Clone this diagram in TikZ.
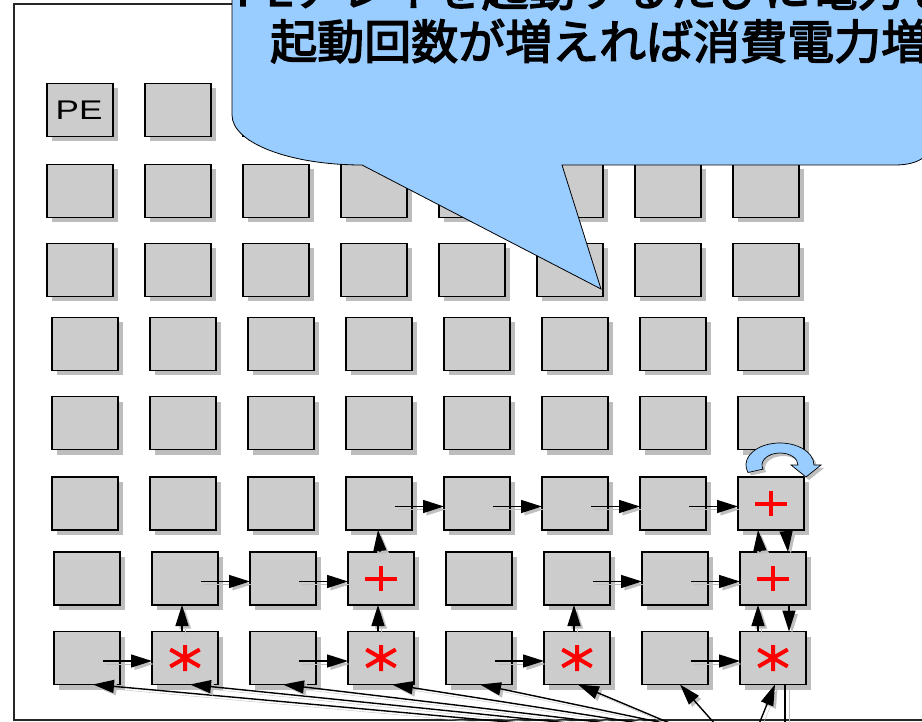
\documentclass[tikz,border=0pt]{standalone}
\usepackage{fontspec}
\usepackage{graphicx}
\newfontfamily\jpfont[FakeBold=3]{Noto Sans CJK JP}
\newfontfamily\lsans{Liberation Sans}
\usetikzlibrary{arrows.meta,shadows}
\definecolor{boxgray}{HTML}{CCCCCC}
\definecolor{shadgray}{HTML}{BDBDBD}
\definecolor{callblue}{HTML}{99CCFF}
\definecolor{symred}{HTML}{FF0000}
\begin{document}
\begin{tikzpicture}[x=1pt,y=-1pt,
  pebox/.style={draw=black, line width=1.8pt, fill=boxgray, minimum width=66pt,
    minimum height=53pt, inner sep=0pt, outer sep=0pt,
    drop shadow={shadow xshift=5pt, shadow yshift=-5pt, fill=shadgray, opacity=1}},
  arr/.style={line width=1.4pt, -{Triangle[length=21pt,width=13pt]},
    preaction={draw=black!25, transform canvas={shift={(3pt,-3pt)}}}},
  sym/.style={draw=symred, line width=4pt},
  frame/.style={draw=black!85, line width=2pt},
  callout/.style={draw=black, line width=0.8pt, fill=callblue},
  asterisk/.pic={\draw[sym] (0,-13)--(0,13) (-14.7,-8.5)--(14.7,8.5) (-14.7,8.5)--(14.7,-8.5);},
  plussign/.pic={\draw[sym] (-16,0)--(16,0) (0,-12.5)--(0,12.5);}
]
\useasboundingbox (0,0) rectangle (922,722);
\clip (0,0) rectangle (922,722);

% outer frame
\draw[frame] (940,4) -- (14,4) -- (14,720) -- (940,720);

% PE boxes
\foreach \r/\yy/\xo in {1/110/80, 2/191/80, 3/270/80, 4/344/85, 5/423/85, 6/503.5/85, 7/578.5/87, 8/658/87} {
  \foreach \c in {1,...,8} {
    \node[pebox] (b\r\c) at ({\xo+98*(\c-1)}, \yy) {};
  }
}
\node[font=\lsans\fontsize{27}{27}\selectfont, text=black, inner sep=0pt] (pe) at ([xshift=-1pt]b11.center) {\scalebox{1.3}[1]{PE}};

% horizontal arrows
\foreach \r/\a/\b in {8/1/2, 8/3/4, 8/5/6, 8/7/8, 7/2/3, 7/3/4, 7/6/7, 7/7/8, 6/4/5, 6/5/6, 6/6/7, 6/7/8}
  \draw[arr] ([xshift=-17pt,yshift=-3pt]b\r\a.east) -- ([yshift=-3pt]b\r\b.west);

% vertical arrows
\draw[arr] ([xshift=-3pt]b82.north) -- ([xshift=-3pt]b72.south);
\draw[arr] ([xshift=-3pt]b84.north) -- ([xshift=-3pt]b74.south);
\draw[arr] ([xshift=-1pt]b74.north) -- ([xshift=-1pt]b64.south);
\draw[arr] ([xshift=-3pt]b86.north) -- ([xshift=-3pt]b76.south);
\draw[arr] ([xshift=-15pt]b88.north) -- ([xshift=-15pt]b78.south);
\draw[arr] ([xshift=-13pt]b78.north) -- ([xshift=-13pt]b68.south);
\draw[arr] ([xshift=15pt]b68.south) -- ([xshift=15pt]b78.north);
\draw[arr] ([xshift=16pt]b78.south) -- ([xshift=16pt]b88.north);

% input lines from below
\coordinate (s1) at (530,724);
\coordinate (s2) at (578,724);
\coordinate (s3) at (615,724);
\coordinate (s4) at (645,724);
\coordinate (s5) at (668,724);
\coordinate (s6) at (672,724);
\coordinate (s7) at (715,724);
\coordinate (s8) at (759,724);
\draw[arr] (s1) -- ([xshift=6pt]b81.south);
\draw[arr] (s2) -- ([xshift=5pt]b82.south);
\draw[arr] (s3) -- ([xshift=0pt]b83.south);
\draw[arr] (s4) -- ([xshift=11pt]b84.south);
\draw[arr] (s5) -- ([xshift=1pt]b85.south);
\draw[arr] (s6) -- ([xshift=1pt]b86.south);
\draw[arr] (s7) -- ([xshift=5pt]b87.south);
\draw[arr] (s8) -- ([xshift=2pt]b88.south);
\coordinate (o8) at (785,724);
\draw[line width=1.4pt, preaction={draw=black!25, transform canvas={shift={(4pt,0pt)}}}] ([xshift=12pt]b88.south) -- (o8);

% operation symbols
\pic at (b82.center) {asterisk};
\pic at (b84.center) {asterisk};
\pic at (b86.center) {asterisk};
\pic at (b88.center) {asterisk};
\pic at (b74.center) {plussign};
\pic at (b78.center) {plussign};
\pic at (b68.center) {plussign};

% loop arrow on top of b68
\fill[black!25] (751,475.5) arc[start angle=160, end angle=360, x radius=34, y radius=22]
  -- (824,468) -- (809,480) -- (794,468) -- (801,468)
  arc[start angle=360, end angle=160, x radius=18, y radius=12] -- cycle;
\draw[callout, line width=0.7pt] (748,472.5) arc[start angle=160, end angle=360, x radius=34, y radius=22]
  -- (821,465) -- (806,477) -- (791,465) -- (798,465)
  arc[start angle=360, end angle=160, x radius=18, y radius=12] -- cycle;

% callout
\draw[callout] (232,-30) -- (232,115) .. controls (232,143) and (290,165) .. (362,165)
  -- (601,289) -- (562,165) -- (895,165) .. controls (920,165) and (935,155) .. (935,130)
  -- (935,-30) -- cycle;
\node[anchor=base west, inner sep=0pt, font=\jpfont\fontsize{47}{47}\selectfont] (t1) at (236,6) {PEアレイを起動するたびに電力を};
\node[anchor=base west, inner sep=0pt, font=\jpfont\fontsize{47}{47}\selectfont] (t2) at (270,59) {起動回数が増えれば消費電力増};
\end{tikzpicture}
\end{document}
